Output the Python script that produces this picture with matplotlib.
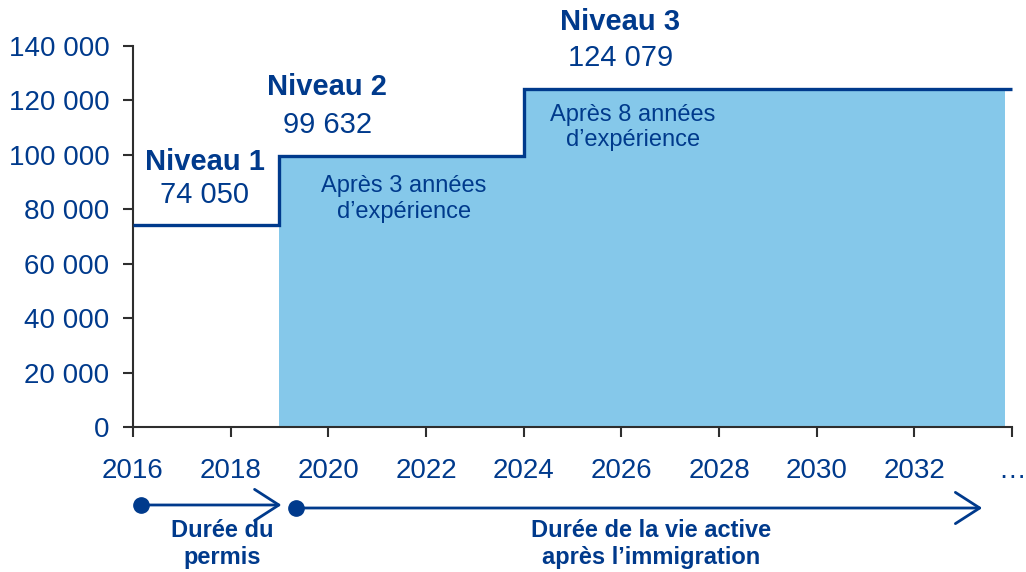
import matplotlib
matplotlib.use("Agg")
import matplotlib.pyplot as plt
import matplotlib.transforms as mtransforms

# Salary levels (CAD) along the years
level_edges = [2016, 2019, 2024, 2034]
level_values = [74050, 99632, 124079]
level_names = ["Niveau 1", "Niveau 2", "Niveau 3"]
level_labels = ["74 050", "99 632", "124 079"]

# shaded zone = working life after immigration
fill_edges = [2019, 2024, 2033.85]
fill_values = [99632, 124079]

x_ticks = [2016, 2018, 2020, 2022, 2024, 2026, 2028, 2030, 2032, 2034]
x_ticklabels = ["2016", "2018", "2020", "2022", "2024", "2026", "2028", "2030", "2032", "…"]
y_ticks = [0, 20000, 40000, 60000, 80000, 100000, 120000, 140000]

navy = "#003A8C"
light = "#85C8EA"
spine_col = "#2e2e2e"

plt.rcParams['font.family'] = ['Liberation Sans', 'DejaVu Sans']

fig = plt.figure(figsize=(10.26, 5.72), dpi=100)
ax = fig.add_axes([0.1296, 0.2535, 0.8568, 0.6661])

ax.stairs(fill_values, fill_edges, fill=True, color=light, lw=0, zorder=1)
ax.stairs(level_values, level_edges, color=navy, lw=2.4, baseline=None,
          clip_on=False, zorder=3)

ax.set_xlim(2016, 2034)
ax.set_ylim(0, 140000)
ax.set_xticks(x_ticks)
ax.set_xticklabels(x_ticklabels)
ax.set_yticks(y_ticks)
ax.set_yticklabels([f"{v:,}".replace(",", " ") for v in y_ticks])

for side in ["top", "right"]:
    ax.spines[side].set_visible(False)
for side in ["left", "bottom"]:
    ax.spines[side].set_color(spine_col)
    ax.spines[side].set_linewidth(1.5)
ax.tick_params(axis="x", direction="out", length=7, width=1.5, color=spine_col,
               labelsize=20, labelcolor=navy, pad=15)
ax.tick_params(axis="y", direction="out", length=7, width=1.5, color=spine_col,
               labelsize=20, labelcolor=navy, pad=10)

# level labels
name_pos = [(2017.47, 97200), (2019.98, 124900), (2025.98, 148800)]
val_pos = [(2017.47, 85200), (2019.98, 111000), (2025.98, 135600)]
for name, lab, npos, vpos in zip(level_names, level_labels, name_pos, val_pos):
    ax.text(npos[0], npos[1], name, ha="center", va="center", fontsize=21,
            fontweight="bold", color=navy, clip_on=False)
    ax.text(vpos[0], vpos[1], lab, ha="center", va="center", fontsize=21,
            color=navy, clip_on=False)

ax.text(2021.55, 83800, "Après 3 années\nd’expérience", ha="center", va="center",
        fontsize=17, color=navy, linespacing=1.2, zorder=4)
ax.text(2026.24, 110000, "Après 8 années\nd’expérience", ha="center", va="center",
        fontsize=17, color=navy, linespacing=1.2, zorder=4)

# timeline arrows under the axis
trans = mtransforms.blended_transform_factory(ax.transData, ax.transAxes)
arrows = [(2016.16, 2019.04, -0.2047), (2019.33, 2033.39, -0.2126)]
for x0, x1, yy in arrows:
    ax.annotate("", xy=(x1, yy), xytext=(x0, yy), xycoords=trans, textcoords=trans,
                arrowprops=dict(arrowstyle="->,head_length=0.7,head_width=0.45",
                                color=navy, lw=2, mutation_scale=25,
                                shrinkA=0, shrinkB=0),
                annotation_clip=False)
    ax.plot([x0], [yy], "o", color=navy, markersize=11, transform=trans,
            clip_on=False, zorder=5)

ax.text(2017.82, -0.307, "Durée du\npermis", transform=trans, ha="center",
        va="center", fontsize=17, fontweight="bold", color=navy, linespacing=1.2)
ax.text(2026.61, -0.307, "Durée de la vie active\naprès l’immigration", transform=trans,
        ha="center", va="center", fontsize=17, fontweight="bold", color=navy,
        linespacing=1.2)

fig.savefig("out.png", dpi=100)
